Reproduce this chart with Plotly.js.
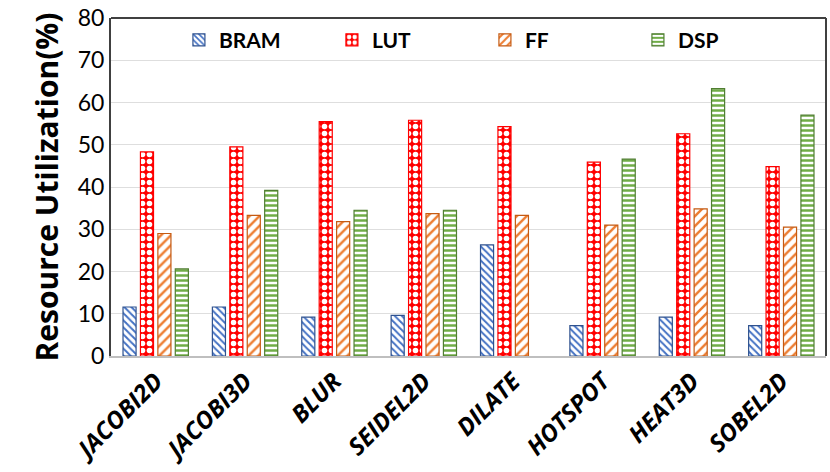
<!DOCTYPE html>
<html>
<head>
<meta charset="utf-8">
<script src="https://cdn.plot.ly/plotly-3.0.1.min.js"></script>
<style>
  body { margin: 0; background: #fff; }
  #chart { width: 830px; height: 472px; }
</style>
</head>
<body>
<div id="chart"></div>
<script>
var kernels = ['JACOBI2D', 'JACOBI3D', 'BLUR', 'SEIDEL2D', 'DILATE', 'HOTSPOT', 'HEAT3D', 'SOBEL2D'];
var bram = [11.6, 11.6, 9.2, 9.6, 26.3, 7.2, 9.2, 7.2];
var lut  = [48.3, 49.5, 55.5, 55.8, 54.3, 45.9, 52.6, 44.8];
var ff   = [29.0, 33.3, 31.8, 33.7, 33.3, 31.0, 34.8, 30.5];
var dsp  = [20.6, 39.2, 34.5, 34.5, null, 46.6, 63.3, 57.0];

function series(name, vals, fg, line, shape, bg, size, solidity) {
  return {
    type: 'bar',
    name: name,
    x: kernels,
    y: vals,
    marker: {
      color: bg,
      line: {color: line, width: 1.2},
      pattern: {shape: shape, fgcolor: fg, bgcolor: bg, size: size, solidity: solidity, fillmode: 'replace'}
    },
    hoverinfo: 'x+y+name'
  };
}

var data = [
  series('BRAM', bram, '#4472c4', '#2f528f', '\\', '#ffffff', 5, 0.4),
  series('LUT', lut, '#ffffff', '#ff0000', '.', '#ff0000', 7, 0.5),
  series('FF', ff, '#ed7d31', '#c55a11', '/', '#ffffff', 7, 0.35),
  series('DSP', dsp, '#70ad47', '#507e32', '-', '#ffffff', 5, 0.5)
];

var layout = {
  width: 830,
  height: 472,
  paper_bgcolor: '#ffffff',
  plot_bgcolor: '#ffffff',
  barmode: 'group',
  bargap: 0.22,
  bargroupgap: 0.25,
  margin: {l: 111, r: 4, t: 18, b: 116, pad: 0},
  font: {family: 'Lato, "Open Sans", sans-serif', color: '#000'},
  showlegend: true,
  legend: {
    orientation: 'h',
    x: 0.095, xanchor: 'left',
    y: 0.995, yanchor: 'top',
    bgcolor: 'rgba(255,255,255,0)',
    font: {size: 21, weight: 'bold', color: '#000'},
    entrywidth: 108,
    itemwidth: 30
  },
  xaxis: {
    type: 'category',
    tickangle: -45,
    tickfont: {size: 24, weight: 'bold', style: 'italic', family: '"Open Sans", sans-serif'},
    showline: true,
    linecolor: '#bfbfbf',
    linewidth: 1.5,
    ticks: '',
    showgrid: false
  },
  yaxis: {
    range: [0, 80],
    dtick: 10,
    tickfont: {size: 23},
    showgrid: true,
    gridcolor: '#dedede',
    gridwidth: 1.2,
    zeroline: false,
    showline: true,
    linecolor: '#404040',
    linewidth: 2,
    ticks: '',
    ticklen: 0,
    title: {text: 'Resource Utilization(%)', font: {size: 30, weight: 'bold', family: '"Open Sans", sans-serif'}, standoff: 10}
  },
  shapes: [
    {type: 'line', xref: 'paper', yref: 'paper', x0: 0, x1: 1, y0: 1, y1: 1, line: {color: '#404040', width: 2}},
    {type: 'line', xref: 'paper', yref: 'paper', x0: 1, x1: 1, y0: 0, y1: 1, line: {color: '#404040', width: 2}}
  ]
};

Plotly.newPlot('chart', data, layout, {displayModeBar: false});
</script>
</body>
</html>
